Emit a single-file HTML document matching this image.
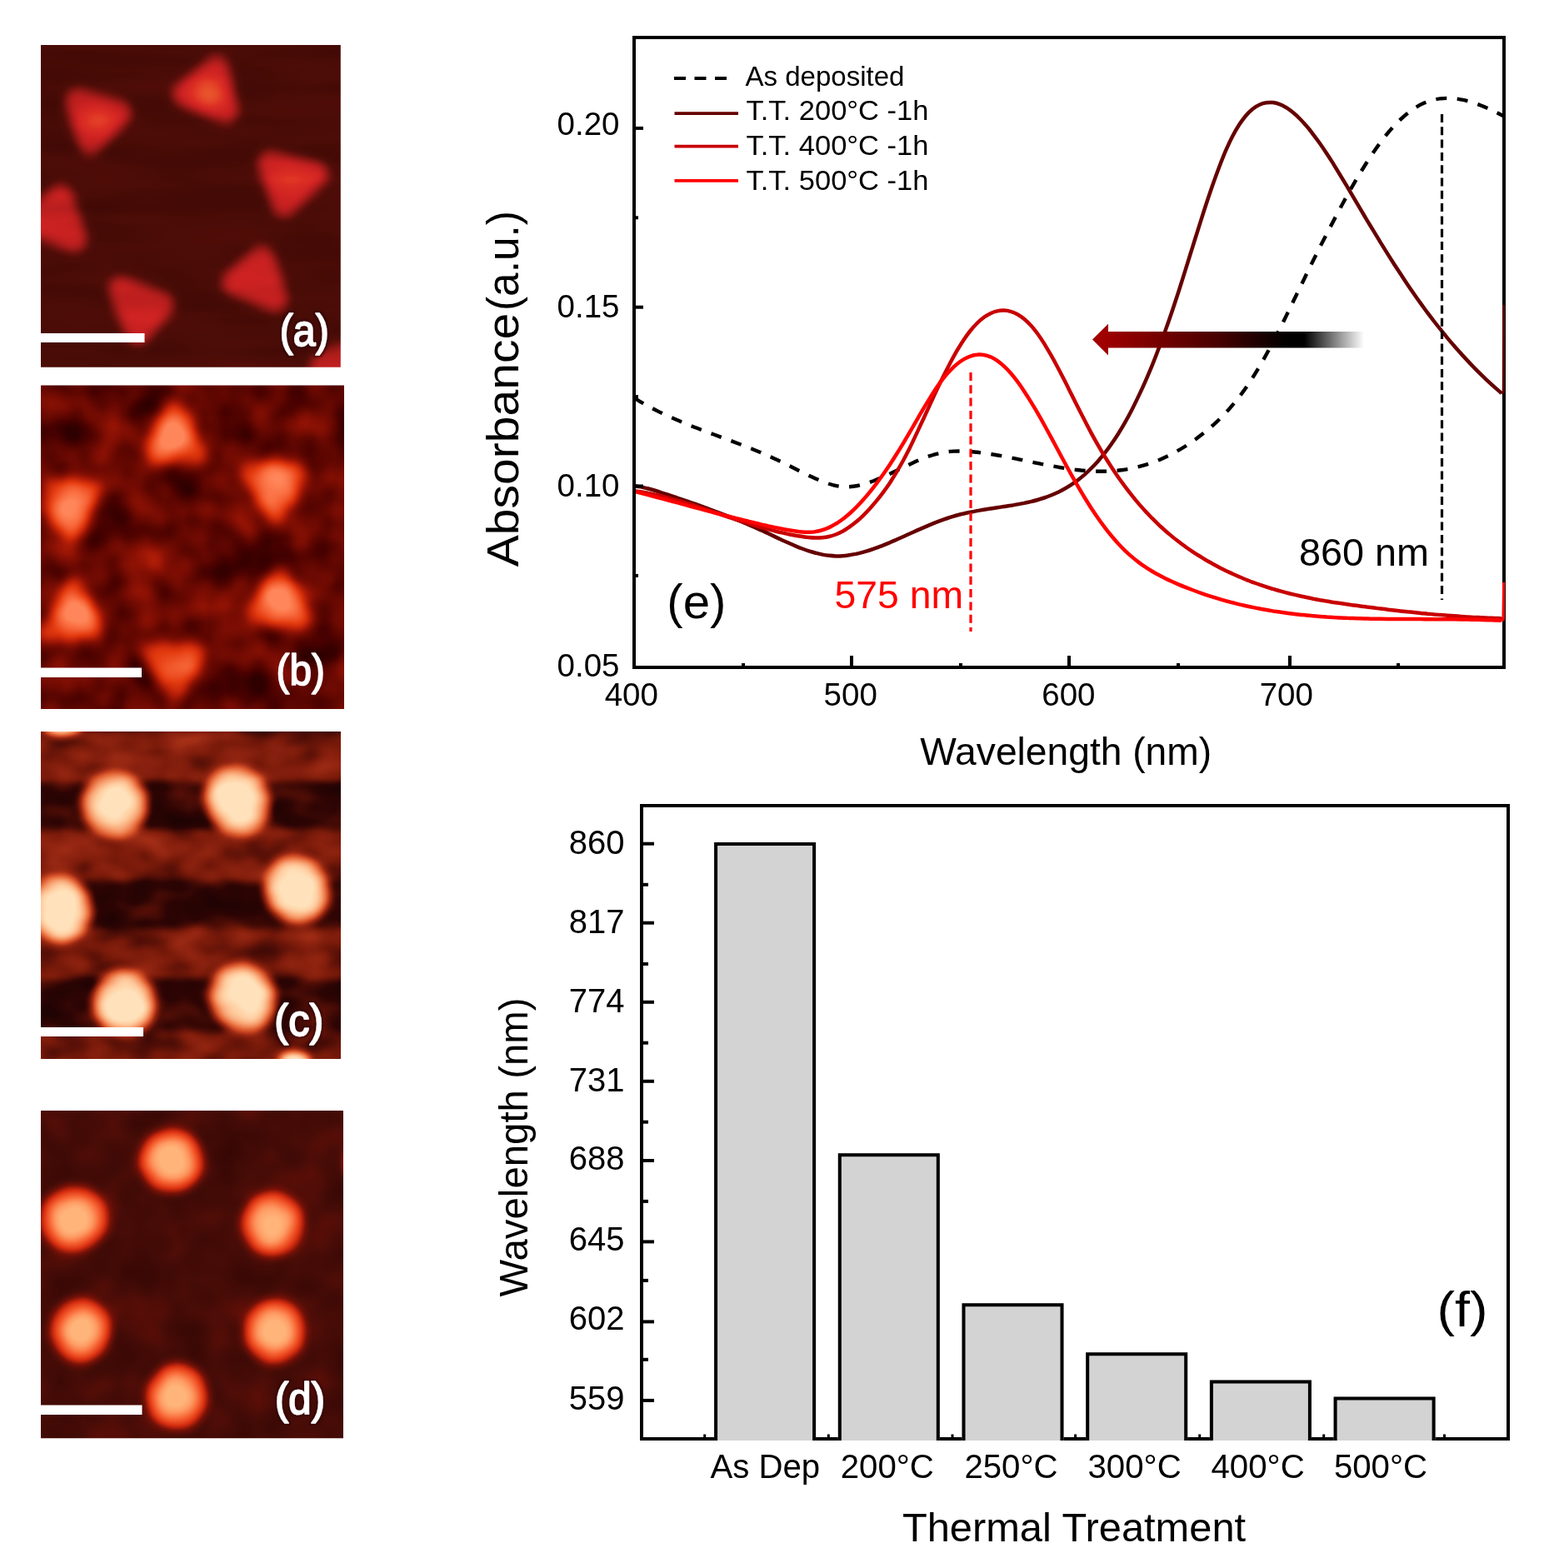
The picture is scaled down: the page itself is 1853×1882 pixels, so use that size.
<!DOCTYPE html>
<html lang="en"><head><meta charset="utf-8"><title>Figure</title>
<style>html,body{margin:0;padding:0;background:#fff;}body{width:1853px;height:1882px;overflow:hidden;}svg{display:block;}</style>
</head><body>
<svg width="1853" height="1882" viewBox="0 0 1853 1882">
<rect width="1853" height="1882" fill="#fff"/>
<defs>
<radialGradient id="dome"><stop offset="0" stop-color="#fff" stop-opacity="1"/><stop offset="0.22" stop-color="#fff" stop-opacity="0.94"/><stop offset="0.45" stop-color="#fff" stop-opacity="0.78"/><stop offset="0.68" stop-color="#fff" stop-opacity="0.55"/><stop offset="0.86" stop-color="#fff" stop-opacity="0.26"/><stop offset="1" stop-color="#fff" stop-opacity="0"/></radialGradient>
<radialGradient id="domeC"><stop offset="0" stop-color="#fff" stop-opacity="1"/><stop offset="0.3" stop-color="#fff" stop-opacity="0.95"/><stop offset="0.55" stop-color="#fff" stop-opacity="0.84"/><stop offset="0.75" stop-color="#fff" stop-opacity="0.62"/><stop offset="0.9" stop-color="#fff" stop-opacity="0.28"/><stop offset="1" stop-color="#fff" stop-opacity="0"/></radialGradient>
<radialGradient id="bump"><stop offset="0" stop-color="#fff" stop-opacity="1"/><stop offset="0.5" stop-color="#fff" stop-opacity="0.6"/><stop offset="1" stop-color="#fff" stop-opacity="0"/></radialGradient>
<filter id="labsh" x="-20%" y="-20%" width="140%" height="140%"><feMorphology operator="dilate" radius="2.2" in="SourceAlpha" result="d"/><feGaussianBlur in="d" stdDeviation="0.8" result="db"/><feFlood flood-color="#2a0500" flood-opacity="0.55"/><feComposite in2="db" operator="in" result="sh"/><feMerge><feMergeNode in="sh"/><feMergeNode in="SourceGraphic"/></feMerge></filter>
</defs>
<g id="panel-a">
<defs>
<clipPath id="cafm1"><rect x="49.0" y="54.0" width="359.8" height="386.8"/></clipPath>
<filter id="afm1" filterUnits="userSpaceOnUse" x="9.0" y="14.0" width="439.8" height="466.8" color-interpolation-filters="sRGB">
<feGaussianBlur in="SourceGraphic" stdDeviation="6.5" result="b"/>
<feTurbulence type="fractalNoise" baseFrequency="0.006 0.035" numOctaves="2" seed="4" result="n"/>
<feColorMatrix in="n" type="matrix" values="1 0 0 0 0  1 0 0 0 0  1 0 0 0 0  0 0 0 0 1" result="ng"/>
<feComposite in="b" in2="ng" operator="arithmetic" k1="0" k2="1" k3="0.2" k4="0.0" result="h"/>
<feComponentTransfer in="h"><feFuncR type="table" tableValues="0.243 0.254 0.265 0.275 0.286 0.298 0.309 0.328 0.351 0.374 0.397 0.420 0.443 0.466 0.489 0.513 0.536 0.559 0.582 0.605 0.628 0.651 0.674 0.698 0.721 0.744 0.767 0.790 0.809 0.823 0.836 0.849 0.863 0.874 0.886 0.897 0.908 0.919 0.926 0.934 0.941"/><feFuncG type="table" tableValues="0.031 0.035 0.039 0.043 0.047 0.049 0.050 0.053 0.057 0.061 0.065 0.069 0.073 0.077 0.081 0.084 0.088 0.092 0.096 0.100 0.104 0.108 0.112 0.115 0.119 0.123 0.127 0.131 0.138 0.148 0.159 0.170 0.180 0.211 0.242 0.274 0.305 0.336 0.368 0.400 0.431"/><feFuncB type="table" tableValues="0.020 0.022 0.024 0.025 0.027 0.029 0.031 0.034 0.039 0.044 0.049 0.053 0.058 0.063 0.068 0.073 0.078 0.082 0.087 0.092 0.097 0.102 0.106 0.111 0.116 0.121 0.126 0.130 0.134 0.136 0.138 0.139 0.141 0.148 0.154 0.161 0.167 0.174 0.181 0.189 0.196"/></feComponentTransfer>
</filter></defs>
<g clip-path="url(#cafm1)">
<g filter="url(#afm1)">
<rect x="9.0" y="14.0" width="439.8" height="466.8" fill="#000"/>

<polygon points="259.7,82.7 222.7,113.3 271.1,132.5" fill="rgb(150,150,150)" stroke="rgb(150,150,150)" stroke-width="31.0" stroke-linejoin="round"/>
<polygon points="93.1,122.0 142.8,134.8 108.4,170.4" fill="rgb(150,150,150)" stroke="rgb(150,150,150)" stroke-width="31.0" stroke-linejoin="round"/>
<polygon points="324.4,196.0 378.0,208.8 341.0,244.5" fill="rgb(150,150,150)" stroke="rgb(150,150,150)" stroke-width="31.0" stroke-linejoin="round"/>
<polygon points="72.6,236.9 89.2,286.6 40.7,267.5" fill="rgb(145,145,145)" stroke="rgb(145,145,145)" stroke-width="31.0" stroke-linejoin="round"/>
<polygon points="314.7,310.4 281.5,339.7 330.0,358.9" fill="rgb(145,145,145)" stroke="rgb(145,145,145)" stroke-width="31.0" stroke-linejoin="round"/>
<polygon points="145.3,347.7 193.7,365.5 165.7,398.7" fill="rgb(145,145,145)" stroke="rgb(145,145,145)" stroke-width="31.0" stroke-linejoin="round"/>
<polygon points="391.6,433.7 412.0,427.3 412.0,441.3 386.5,441.3" fill="rgb(135,135,135)" stroke="rgb(135,135,135)" stroke-width="31.0" stroke-linejoin="round"/>
<ellipse cx="251.5" cy="112.6" rx="30.8" ry="26.7" fill="url(#bump)" opacity="0.75" transform="rotate(0 251.5 112.6)"/>
<ellipse cx="116.8" cy="141.4" rx="30.8" ry="26.7" fill="url(#bump)" opacity="0.45" transform="rotate(0 116.8 141.4)"/>
<ellipse cx="347.1" cy="216.4" rx="30.8" ry="26.7" fill="url(#bump)" opacity="0.25" transform="rotate(0 347.1 216.4)"/>
</g>
<rect x="49.0" y="400.0" width="124.5" height="11.0" fill="#fff"/>
<text x="335.8" y="415.2" font-family='"Liberation Sans", Arial, sans-serif' font-size="54.5" fill="#fff" stroke="#fff" stroke-width="1.7" stroke-linejoin="round" textLength="59.0" lengthAdjust="spacingAndGlyphs" filter="url(#labsh)">(a)</text>
</g></g>
<g id="panel-b">
<defs>
<clipPath id="cafm2"><rect x="49.0" y="462.5" width="364.0" height="388.5"/></clipPath>
<filter id="afm2" filterUnits="userSpaceOnUse" x="9.0" y="422.5" width="444.0" height="468.5" color-interpolation-filters="sRGB">
<feGaussianBlur in="SourceGraphic" stdDeviation="7.5" result="b"/>
<feTurbulence type="fractalNoise" baseFrequency="0.02" numOctaves="2" seed="7" result="n"/>
<feColorMatrix in="n" type="matrix" values="1 0 0 0 0  1 0 0 0 0  1 0 0 0 0  0 0 0 0 1" result="ng"/>
<feComposite in="b" in2="ng" operator="arithmetic" k1="0" k2="1" k3="0.6" k4="-0.125" result="h"/>
<feComponentTransfer in="h"><feFuncR type="table" tableValues="0.188 0.215 0.241 0.268 0.294 0.324 0.353 0.382 0.412 0.441 0.471 0.500 0.529 0.562 0.595 0.627 0.660 0.693 0.725 0.750 0.775 0.800 0.825 0.849 0.874 0.896 0.904 0.913 0.921 0.930 0.938 0.947 0.955 0.964 0.973 0.977 0.982 0.986 0.991 0.995 1.000"/><feFuncG type="table" tableValues="0.000 0.002 0.004 0.006 0.008 0.015 0.022 0.028 0.035 0.042 0.049 0.056 0.063 0.073 0.084 0.094 0.105 0.115 0.125 0.140 0.155 0.170 0.185 0.200 0.215 0.231 0.251 0.272 0.292 0.312 0.332 0.352 0.372 0.392 0.412 0.431 0.451 0.471 0.490 0.510 0.529"/><feFuncB type="table" tableValues="0.000 0.000 0.000 0.000 0.000 0.002 0.004 0.006 0.008 0.010 0.012 0.014 0.016 0.018 0.021 0.024 0.026 0.029 0.031 0.035 0.039 0.043 0.048 0.052 0.056 0.063 0.082 0.101 0.120 0.139 0.159 0.178 0.197 0.216 0.235 0.255 0.275 0.294 0.314 0.333 0.353"/></feComponentTransfer>
</filter></defs>
<g clip-path="url(#cafm2)">
<g filter="url(#afm2)">
<rect x="9.0" y="422.5" width="444.0" height="468.5" fill="#000"/>

<polygon points="207.7,492.6 183.9,544.5 237.1,544.5" fill="rgb(124,124,124)" stroke="rgb(124,124,124)" stroke-width="22.0" stroke-linejoin="round"/>
<polygon points="299.1,565.0 356.6,566.4 331.4,616.8" fill="rgb(124,124,124)" stroke="rgb(124,124,124)" stroke-width="22.0" stroke-linejoin="round"/>
<polygon points="60.2,586.2 109.3,586.2 84.0,636.7" fill="rgb(124,124,124)" stroke="rgb(124,124,124)" stroke-width="22.0" stroke-linejoin="round"/>
<polygon points="334.1,690.5 308.9,742.3 362.1,742.3" fill="rgb(124,124,124)" stroke="rgb(124,124,124)" stroke-width="22.0" stroke-linejoin="round"/>
<polygon points="88.2,704.1 60.1,758.8 114.8,758.8" fill="rgb(124,124,124)" stroke="rgb(124,124,124)" stroke-width="22.0" stroke-linejoin="round"/>
<polygon points="181.7,783.4 236.4,783.4 209.8,832.5" fill="rgb(124,124,124)" stroke="rgb(124,124,124)" stroke-width="22.0" stroke-linejoin="round"/>
<ellipse cx="207.7" cy="524.8" rx="30.9" ry="34.0" fill="url(#bump)" transform="rotate(0 207.7 524.8)"/>
<ellipse cx="331.4" cy="584.6" rx="30.9" ry="34.0" fill="url(#bump)" opacity="0.95" transform="rotate(0 331.4 584.6)"/>
<ellipse cx="84.0" cy="607.3" rx="30.9" ry="34.0" fill="url(#bump)" transform="rotate(0 84.0 607.3)"/>
<ellipse cx="335.5" cy="722.7" rx="30.9" ry="34.0" fill="url(#bump)" transform="rotate(0 335.5 722.7)"/>
<ellipse cx="88.2" cy="739.2" rx="30.9" ry="34.0" fill="url(#bump)" transform="rotate(0 88.2 739.2)"/>
<ellipse cx="209.8" cy="803.1" rx="30.9" ry="34.0" fill="url(#bump)" opacity="0.22" transform="rotate(0 209.8 803.1)"/>
</g>
<rect x="49.0" y="801.5" width="121.0" height="11.5" fill="#fff"/>
<text x="331.5" y="822.0" font-family='"Liberation Sans", Arial, sans-serif' font-size="52.5" fill="#fff" stroke="#fff" stroke-width="1.7" stroke-linejoin="round" textLength="58.5" lengthAdjust="spacingAndGlyphs">(b)</text>
</g></g>
<g id="panel-c">
<defs>
<clipPath id="cafm3"><rect x="49.0" y="878.0" width="360.0" height="393.0"/></clipPath>
<filter id="afm3" filterUnits="userSpaceOnUse" x="9.0" y="838.0" width="440.0" height="473.0" color-interpolation-filters="sRGB">
<feGaussianBlur in="SourceGraphic" stdDeviation="4" result="b"/>
<feTurbulence type="fractalNoise" baseFrequency="0.02 0.03" numOctaves="2" seed="11" result="n"/>
<feColorMatrix in="n" type="matrix" values="1 0 0 0 0  1 0 0 0 0  1 0 0 0 0  0 0 0 0 1" result="ng"/>
<feComposite in="b" in2="ng" operator="arithmetic" k1="0" k2="1" k3="0.3" k4="-0.05" result="h"/>
<feComponentTransfer in="h"><feFuncR type="table" tableValues="0.110 0.127 0.145 0.163 0.180 0.227 0.274 0.320 0.371 0.422 0.474 0.513 0.545 0.577 0.613 0.656 0.699 0.742 0.784 0.805 0.826 0.847 0.868 0.889 0.910 0.920 0.931 0.941 0.952 0.962 0.973 0.977 0.982 0.986 0.991 0.995 1.000 1.000 1.000 1.000 1.000"/><feFuncG type="table" tableValues="0.012 0.014 0.016 0.018 0.020 0.032 0.044 0.056 0.072 0.087 0.103 0.119 0.133 0.148 0.167 0.192 0.217 0.242 0.267 0.295 0.324 0.353 0.382 0.410 0.439 0.471 0.502 0.533 0.565 0.596 0.627 0.657 0.686 0.716 0.745 0.775 0.804 0.825 0.845 0.866 0.886"/><feFuncB type="table" tableValues="0.012 0.013 0.014 0.015 0.016 0.019 0.023 0.027 0.031 0.036 0.041 0.049 0.059 0.069 0.079 0.091 0.102 0.114 0.125 0.146 0.167 0.188 0.209 0.230 0.251 0.282 0.314 0.345 0.376 0.408 0.439 0.471 0.502 0.533 0.565 0.596 0.627 0.655 0.682 0.710 0.737"/></feComponentTransfer>
</filter></defs>
<g clip-path="url(#cafm3)">
<g filter="url(#afm3)">
<rect x="9.0" y="838.0" width="440.0" height="473.0" fill="#000"/>
<rect x="0" y="878.0" width="500" height="60.6" fill="rgb(44,44,44)"/><rect x="0" y="994.9" width="500" height="62.6" fill="rgb(40,40,40)"/><rect x="0" y="1114.0" width="500" height="60.6" fill="rgb(38,38,38)"/><rect x="0" y="1237.2" width="500" height="41.8" fill="rgb(36,36,36)"/>
<ellipse cx="137.7" cy="965.7" rx="44.3" ry="44.3" fill="url(#domeC)" transform="rotate(-20 137.7 965.7)"/>
<ellipse cx="285.0" cy="961.5" rx="42.8" ry="48.4" fill="url(#domeC)" transform="rotate(-30 285.0 961.5)"/>
<ellipse cx="356.0" cy="1068.0" rx="42.8" ry="46.4" fill="url(#domeC)" transform="rotate(-25 356.0 1068.0)"/>
<ellipse cx="72.0" cy="1091.0" rx="42.8" ry="44.3" fill="url(#domeC)" transform="rotate(-25 72.0 1091.0)"/>
<ellipse cx="149.2" cy="1203.7" rx="41.8" ry="44.3" fill="url(#domeC)" transform="rotate(-20 149.2 1203.7)"/>
<ellipse cx="291.2" cy="1197.5" rx="44.3" ry="47.6" fill="url(#domeC)" transform="rotate(-30 291.2 1197.5)"/>
<ellipse cx="74.1" cy="871.7" rx="28.2" ry="12.9" fill="url(#domeC)" transform="rotate(0 74.1 871.7)"/>
<ellipse cx="353.9" cy="1272.7" rx="21.9" ry="12.9" fill="url(#domeC)" transform="rotate(0 353.9 1272.7)"/>
</g>
<rect x="49.0" y="1233.0" width="123.0" height="11.0" fill="#fff"/>
<text x="329.3" y="1242.6" font-family='"Liberation Sans", Arial, sans-serif' font-size="54.0" fill="#fff" stroke="#fff" stroke-width="1.7" stroke-linejoin="round" textLength="59.0" lengthAdjust="spacingAndGlyphs" filter="url(#labsh)">(c)</text>
</g></g>
<g id="panel-d">
<defs>
<clipPath id="cafm4"><rect x="49.0" y="1333.0" width="363.0" height="393.3"/></clipPath>
<filter id="afm4" filterUnits="userSpaceOnUse" x="9.0" y="1293.0" width="443.0" height="473.3" color-interpolation-filters="sRGB">
<feGaussianBlur in="SourceGraphic" stdDeviation="4" result="b"/>
<feTurbulence type="fractalNoise" baseFrequency="0.02" numOctaves="2" seed="5" result="n"/>
<feColorMatrix in="n" type="matrix" values="1 0 0 0 0  1 0 0 0 0  1 0 0 0 0  0 0 0 0 1" result="ng"/>
<feComposite in="b" in2="ng" operator="arithmetic" k1="0" k2="1" k3="0.24" k4="0.0" result="h"/>
<feComponentTransfer in="h"><feFuncR type="table" tableValues="0.196 0.212 0.227 0.243 0.258 0.276 0.305 0.334 0.363 0.392 0.421 0.450 0.478 0.524 0.570 0.615 0.661 0.706 0.752 0.798 0.843 0.858 0.874 0.889 0.904 0.919 0.934 0.950 0.965 0.970 0.975 0.979 0.984 0.989 0.994 0.999 1.000 1.000 1.000 1.000 1.000"/><feFuncG type="table" tableValues="0.024 0.028 0.033 0.038 0.043 0.048 0.051 0.054 0.058 0.061 0.064 0.067 0.071 0.084 0.098 0.112 0.125 0.139 0.153 0.167 0.180 0.205 0.229 0.254 0.278 0.303 0.327 0.352 0.376 0.409 0.441 0.473 0.505 0.537 0.569 0.601 0.624 0.645 0.665 0.685 0.706"/><feFuncB type="table" tableValues="0.016 0.018 0.021 0.023 0.025 0.028 0.028 0.029 0.029 0.030 0.030 0.031 0.031 0.035 0.039 0.043 0.047 0.051 0.055 0.059 0.063 0.078 0.094 0.110 0.125 0.141 0.157 0.173 0.188 0.217 0.245 0.273 0.302 0.330 0.358 0.386 0.407 0.425 0.442 0.460 0.478"/></feComponentTransfer>
</filter></defs>
<g clip-path="url(#cafm4)">
<g filter="url(#afm4)">
<rect x="9.0" y="1293.0" width="443.0" height="473.3" fill="#000"/>

<ellipse cx="206.0" cy="1393.7" rx="45.0" ry="45.0" fill="url(#dome)" transform="rotate(0 206.0 1393.7)"/>
<ellipse cx="88.8" cy="1462.8" rx="47.1" ry="46.1" fill="url(#dome)" transform="rotate(0 88.8 1462.8)"/>
<ellipse cx="327.4" cy="1469.1" rx="44.0" ry="45.0" fill="url(#dome)" transform="rotate(0 327.4 1469.1)"/>
<ellipse cx="97.1" cy="1596.8" rx="42.9" ry="45.0" fill="url(#dome)" transform="rotate(0 97.1 1596.8)"/>
<ellipse cx="329.5" cy="1598.9" rx="42.9" ry="45.0" fill="url(#dome)" transform="rotate(0 329.5 1598.9)"/>
<ellipse cx="212.3" cy="1676.3" rx="42.9" ry="46.1" fill="url(#dome)" transform="rotate(0 212.3 1676.3)"/>
<ellipse cx="425.8" cy="1395.8" rx="14.7" ry="25.1" fill="url(#dome)" transform="rotate(0 425.8 1395.8)"/>
</g>
<rect x="49.0" y="1686.5" width="121.5" height="11.5" fill="#fff"/>
<text x="330.0" y="1697.4" font-family='"Liberation Sans", Arial, sans-serif' font-size="53.5" fill="#fff" stroke="#fff" stroke-width="1.7" stroke-linejoin="round" textLength="60.0" lengthAdjust="spacingAndGlyphs" filter="url(#labsh)">(d)</text>
</g></g>
<g id="chart-e">
<clipPath id="clipE"><rect x="761.0" y="45.0" width="1046.0" height="756.0"/></clipPath>
<g clip-path="url(#clipE)" fill="none" stroke-linejoin="round" stroke-linecap="butt">
<path d="M761.0,477.7 C762.6,478.6 767.4,481.5 770.6,483.4 C773.8,485.2 777.0,486.9 780.2,488.6 C783.3,490.3 786.5,492.0 789.7,493.6 C792.9,495.2 796.1,496.7 799.3,498.2 C802.5,499.7 805.7,501.1 808.9,502.5 C812.1,503.9 815.3,505.3 818.5,506.6 C821.7,508.0 824.9,509.3 828.0,510.6 C831.2,511.8 834.4,513.1 837.6,514.3 C840.8,515.6 844.0,516.8 847.2,518.0 C850.4,519.2 853.6,520.4 856.8,521.5 C860.0,522.7 863.2,523.9 866.4,525.1 C869.6,526.3 872.7,527.4 875.9,528.6 C879.1,529.8 882.3,531.0 885.5,532.2 C888.7,533.4 891.9,534.7 895.1,535.9 C898.3,537.2 901.5,538.4 904.7,539.7 C907.9,541.0 911.1,542.3 914.2,543.7 C917.4,545.1 920.6,546.5 923.8,547.9 C927.0,549.3 930.2,550.8 933.4,552.3 C936.6,553.9 939.8,555.4 943.0,557.0 C946.2,558.6 949.4,560.2 952.6,561.8 C955.8,563.4 958.9,565.0 962.1,566.5 C965.3,568.1 968.5,569.7 971.7,571.2 C974.9,572.7 978.1,574.1 981.3,575.5 C984.5,576.9 987.7,578.2 990.9,579.4 C994.1,580.5 997.3,581.6 1000.4,582.3 C1003.6,583.1 1006.8,583.8 1010.0,584.1 C1013.2,584.4 1016.4,584.5 1019.6,584.3 C1022.8,584.1 1026.0,583.6 1029.2,583.0 C1032.4,582.4 1035.6,581.5 1038.8,580.6 C1042.0,579.6 1045.1,578.5 1048.3,577.3 C1051.5,576.0 1054.7,574.7 1057.9,573.3 C1061.1,571.9 1064.3,570.4 1067.5,568.9 C1070.7,567.4 1073.9,565.9 1077.1,564.3 C1080.3,562.8 1083.5,561.2 1086.7,559.7 C1089.8,558.2 1093.0,556.6 1096.2,555.2 C1099.4,553.7 1102.6,552.3 1105.8,551.0 C1109.0,549.8 1112.2,548.5 1115.4,547.4 C1118.6,546.4 1121.8,545.4 1125.0,544.6 C1128.2,543.8 1131.3,543.1 1134.5,542.6 C1137.7,542.1 1140.9,541.8 1144.1,541.6 C1147.3,541.5 1150.5,541.4 1153.7,541.5 C1156.9,541.5 1160.1,541.7 1163.3,541.9 C1166.5,542.1 1169.7,542.5 1172.9,542.8 C1176.0,543.2 1179.2,543.6 1182.4,544.0 C1185.6,544.4 1188.8,544.9 1192.0,545.5 C1195.2,546.0 1198.4,546.5 1201.6,547.1 C1204.8,547.7 1208.0,548.3 1211.2,548.9 C1214.4,549.5 1217.6,550.2 1220.7,550.8 C1223.9,551.5 1227.1,552.1 1230.3,552.8 C1233.5,553.5 1236.7,554.1 1239.9,554.8 C1243.1,555.5 1246.3,556.1 1249.5,556.8 C1252.7,557.4 1255.9,558.0 1259.1,558.6 C1262.2,559.3 1265.4,559.8 1268.6,560.4 C1271.8,561.0 1275.0,561.5 1278.2,562.0 C1281.4,562.5 1284.6,562.9 1287.8,563.4 C1291.0,563.8 1294.2,564.1 1297.4,564.5 C1300.6,564.8 1303.8,565.0 1306.9,565.2 C1310.1,565.5 1313.3,565.6 1316.5,565.7 C1319.7,565.8 1322.9,565.8 1326.1,565.7 C1329.3,565.6 1332.5,565.5 1335.7,565.3 C1338.9,565.0 1342.1,564.7 1345.3,564.3 C1348.4,563.9 1351.6,563.5 1354.8,562.9 C1358.0,562.3 1361.2,561.6 1364.4,560.8 C1367.6,560.0 1370.8,559.2 1374.0,558.2 C1377.2,557.2 1380.4,556.2 1383.6,555.0 C1386.8,553.8 1390.0,552.6 1393.1,551.2 C1396.3,549.8 1399.5,548.3 1402.7,546.8 C1405.9,545.2 1409.1,543.5 1412.3,541.7 C1415.5,539.9 1418.7,538.0 1421.9,536.0 C1425.1,534.0 1428.3,531.9 1431.5,529.6 C1434.7,527.4 1437.8,525.1 1441.0,522.6 C1444.2,520.1 1447.4,517.6 1450.6,514.9 C1453.8,512.2 1457.0,509.3 1460.2,506.3 C1463.4,503.3 1466.6,500.1 1469.8,496.7 C1473.0,493.4 1476.2,489.8 1479.3,486.1 C1482.5,482.3 1485.7,478.3 1488.9,474.1 C1492.1,469.8 1495.3,465.4 1498.5,460.6 C1501.7,455.9 1504.9,450.8 1508.1,445.6 C1511.3,440.4 1514.5,434.8 1517.7,429.2 C1520.9,423.5 1524.0,417.6 1527.2,411.5 C1530.4,405.5 1533.6,399.2 1536.8,392.9 C1540.0,386.6 1543.2,380.0 1546.4,373.5 C1549.6,367.0 1552.8,360.3 1556.0,353.7 C1559.2,347.1 1562.4,340.5 1565.6,334.0 C1568.7,327.4 1571.9,320.9 1575.1,314.5 C1578.3,308.1 1581.5,301.7 1584.7,295.4 C1587.9,289.1 1591.1,282.9 1594.3,276.7 C1597.5,270.6 1600.7,264.5 1603.9,258.5 C1607.1,252.5 1610.2,246.5 1613.4,240.7 C1616.6,234.9 1619.8,229.2 1623.0,223.6 C1626.2,218.1 1629.4,212.6 1632.6,207.3 C1635.8,202.1 1639.0,196.9 1642.2,192.0 C1645.4,187.1 1648.6,182.4 1651.8,177.8 C1654.9,173.3 1658.1,169.0 1661.3,165.0 C1664.5,160.9 1667.7,157.1 1670.9,153.6 C1674.1,150.0 1677.3,146.7 1680.5,143.6 C1683.7,140.6 1686.9,137.8 1690.1,135.3 C1693.3,132.8 1696.4,130.5 1699.6,128.6 C1702.8,126.7 1706.0,125.0 1709.2,123.6 C1712.4,122.2 1715.6,121.1 1718.8,120.3 C1722.0,119.4 1725.2,118.8 1728.4,118.4 C1731.6,118.0 1734.8,117.8 1738.0,117.9 C1741.1,117.9 1744.3,118.1 1747.5,118.5 C1750.7,118.9 1753.9,119.5 1757.1,120.2 C1760.3,120.9 1763.5,121.8 1766.7,122.8 C1769.9,123.8 1773.1,125.0 1776.3,126.2 C1779.5,127.4 1782.7,128.8 1785.8,130.2 C1789.0,131.6 1792.2,133.1 1795.4,134.7 C1798.6,136.3 1803.4,138.7 1805.0,139.5" stroke="#000" stroke-width="4.4" stroke-dasharray="13,12.5"/>
<path d="M761.0,583.0 C762.3,583.2 766.4,583.8 769.1,584.4 C771.8,584.9 774.4,585.6 777.1,586.3 C779.8,587.0 782.5,587.7 785.2,588.5 C787.9,589.3 790.6,590.2 793.3,591.1 C796.0,591.9 798.7,592.8 801.3,593.7 C804.0,594.6 806.7,595.5 809.4,596.4 C812.1,597.3 814.8,598.3 817.5,599.2 C820.2,600.1 822.9,601.0 825.6,601.9 C828.2,602.9 830.9,603.8 833.6,604.7 C836.3,605.7 839.0,606.6 841.7,607.6 C844.4,608.6 847.1,609.5 849.8,610.5 C852.5,611.5 855.1,612.5 857.8,613.5 C860.5,614.5 863.2,615.5 865.9,616.5 C868.6,617.6 871.3,618.6 874.0,619.7 C876.7,620.7 879.4,621.8 882.0,622.9 C884.7,624.0 887.4,625.1 890.1,626.2 C892.8,627.3 895.5,628.5 898.2,629.6 C900.9,630.8 903.6,631.9 906.3,633.1 C908.9,634.3 911.6,635.6 914.3,636.8 C917.0,638.0 919.7,639.3 922.4,640.5 C925.1,641.8 927.8,643.1 930.5,644.4 C933.2,645.6 935.8,646.9 938.5,648.2 C941.2,649.4 943.9,650.6 946.6,651.8 C949.3,653.0 952.0,654.2 954.7,655.3 C957.4,656.4 960.1,657.5 962.7,658.5 C965.4,659.5 968.1,660.5 970.8,661.4 C973.5,662.2 976.2,663.0 978.9,663.7 C981.6,664.5 984.3,665.1 987.0,665.6 C989.6,666.1 992.3,666.5 995.0,666.8 C997.7,667.1 1000.4,667.3 1003.1,667.4 C1005.8,667.4 1008.5,667.4 1011.2,667.2 C1013.9,667.0 1016.5,666.7 1019.2,666.3 C1021.9,665.9 1024.6,665.4 1027.3,664.9 C1030.0,664.3 1032.7,663.6 1035.4,662.9 C1038.1,662.2 1040.8,661.3 1043.4,660.5 C1046.1,659.6 1048.8,658.7 1051.5,657.7 C1054.2,656.7 1056.9,655.6 1059.6,654.6 C1062.3,653.5 1065.0,652.4 1067.7,651.3 C1070.3,650.1 1073.0,648.9 1075.7,647.8 C1078.4,646.6 1081.1,645.4 1083.8,644.2 C1086.5,643.0 1089.2,641.8 1091.9,640.5 C1094.6,639.3 1097.2,638.1 1099.9,636.9 C1102.6,635.7 1105.3,634.5 1108.0,633.4 C1110.7,632.2 1113.4,631.0 1116.1,629.9 C1118.8,628.8 1121.4,627.7 1124.1,626.7 C1126.8,625.6 1129.5,624.6 1132.2,623.6 C1134.9,622.7 1137.6,621.8 1140.3,620.9 C1143.0,620.1 1145.7,619.3 1148.3,618.5 C1151.0,617.8 1153.7,617.1 1156.4,616.5 C1159.1,615.8 1161.8,615.3 1164.5,614.7 C1167.2,614.1 1169.9,613.6 1172.6,613.1 C1175.2,612.6 1177.9,612.2 1180.6,611.7 C1183.3,611.3 1186.0,610.9 1188.7,610.5 C1191.4,610.0 1194.1,609.6 1196.8,609.2 C1199.5,608.8 1202.1,608.4 1204.8,608.0 C1207.5,607.6 1210.2,607.2 1212.9,606.8 C1215.6,606.3 1218.3,605.9 1221.0,605.4 C1223.7,604.9 1226.4,604.4 1229.0,603.9 C1231.7,603.3 1234.4,602.7 1237.1,602.1 C1239.8,601.5 1242.5,600.8 1245.2,600.0 C1247.9,599.2 1250.6,598.4 1253.3,597.5 C1255.9,596.6 1258.6,595.6 1261.3,594.5 C1264.0,593.4 1266.7,592.3 1269.4,591.0 C1272.1,589.7 1274.8,588.3 1277.5,586.8 C1280.2,585.3 1282.8,583.6 1285.5,581.9 C1288.2,580.1 1290.9,578.2 1293.6,576.2 C1296.3,574.1 1299.0,571.9 1301.7,569.6 C1304.4,567.2 1307.1,564.7 1309.7,562.0 C1312.4,559.3 1315.1,556.5 1317.8,553.4 C1320.5,550.4 1323.2,547.2 1325.9,543.7 C1328.6,540.3 1331.3,536.7 1334.0,532.8 C1336.6,529.0 1339.3,524.9 1342.0,520.7 C1344.7,516.4 1347.4,511.9 1350.1,507.1 C1352.8,502.4 1355.5,497.4 1358.2,492.2 C1360.9,487.0 1363.5,481.6 1366.2,475.9 C1368.9,470.3 1371.6,464.4 1374.3,458.3 C1377.0,452.2 1379.7,445.8 1382.4,439.3 C1385.1,432.7 1387.8,425.9 1390.4,418.8 C1393.1,411.8 1395.8,404.5 1398.5,397.0 C1401.2,389.5 1403.9,381.8 1406.6,373.8 C1409.3,365.9 1412.0,357.6 1414.7,349.3 C1417.3,341.0 1420.0,332.4 1422.7,323.8 C1425.4,315.3 1428.1,306.5 1430.8,297.9 C1433.5,289.3 1436.2,280.6 1438.9,272.1 C1441.6,263.6 1444.2,255.2 1446.9,247.0 C1449.6,238.8 1452.3,230.7 1455.0,223.0 C1457.7,215.3 1460.4,207.8 1463.1,200.7 C1465.8,193.7 1468.4,187.0 1471.1,180.7 C1473.8,174.5 1476.5,168.7 1479.2,163.5 C1481.9,158.3 1484.6,153.7 1487.3,149.5 C1490.0,145.4 1492.7,141.8 1495.3,138.7 C1498.0,135.6 1500.7,133.0 1503.4,130.8 C1506.1,128.7 1508.8,127.0 1511.5,125.8 C1514.2,124.5 1516.9,123.7 1519.6,123.3 C1522.2,122.8 1524.9,122.8 1527.6,123.1 C1530.3,123.5 1533.0,124.2 1535.7,125.2 C1538.4,126.2 1541.1,127.6 1543.8,129.2 C1546.5,130.9 1549.1,132.9 1551.8,135.1 C1554.5,137.3 1557.2,139.8 1559.9,142.5 C1562.6,145.2 1565.3,148.2 1568.0,151.3 C1570.7,154.4 1573.4,157.8 1576.0,161.3 C1578.7,164.8 1581.4,168.5 1584.1,172.3 C1586.8,176.2 1589.5,180.2 1592.2,184.3 C1594.9,188.3 1597.6,192.6 1600.3,196.8 C1602.9,201.1 1605.6,205.5 1608.3,210.0 C1611.0,214.4 1613.7,218.9 1616.4,223.4 C1619.1,227.9 1621.8,232.5 1624.5,237.1 C1627.2,241.6 1629.8,246.2 1632.5,250.7 C1635.2,255.2 1637.9,259.8 1640.6,264.3 C1643.3,268.8 1646.0,273.2 1648.7,277.7 C1651.4,282.1 1654.1,286.5 1656.7,290.9 C1659.4,295.3 1662.1,299.6 1664.8,303.9 C1667.5,308.2 1670.2,312.5 1672.9,316.7 C1675.6,320.9 1678.3,325.0 1681.0,329.1 C1683.6,333.2 1686.3,337.3 1689.0,341.3 C1691.7,345.3 1694.4,349.2 1697.1,353.0 C1699.8,356.9 1702.5,360.7 1705.2,364.4 C1707.9,368.1 1710.5,371.8 1713.2,375.4 C1715.9,379.0 1718.6,382.5 1721.3,386.0 C1724.0,389.5 1726.7,392.9 1729.4,396.2 C1732.1,399.6 1734.8,402.8 1737.4,406.1 C1740.1,409.3 1742.8,412.4 1745.5,415.5 C1748.2,418.6 1750.9,421.7 1753.6,424.6 C1756.3,427.6 1759.0,430.5 1761.7,433.4 C1764.3,436.3 1767.0,439.0 1769.7,441.8 C1772.4,444.5 1775.1,447.2 1777.8,449.8 C1780.5,452.5 1783.2,455.0 1785.9,457.6 C1788.6,460.1 1791.2,462.5 1793.9,464.9 C1796.6,467.3 1800.7,470.8 1802.0,472.0" stroke="#660000" stroke-width="4.5"/>
<path d="M761.0,589.0 C762.3,589.2 766.4,589.8 769.1,590.3 C771.8,590.7 774.4,591.2 777.1,591.8 C779.8,592.3 782.5,592.9 785.2,593.5 C787.9,594.1 790.6,594.7 793.3,595.4 C796.0,596.0 798.7,596.7 801.3,597.4 C804.0,598.2 806.7,598.9 809.4,599.7 C812.1,600.4 814.8,601.2 817.5,602.0 C820.2,602.8 822.9,603.6 825.6,604.5 C828.2,605.3 830.9,606.2 833.6,607.0 C836.3,607.9 839.0,608.8 841.7,609.7 C844.4,610.5 847.1,611.4 849.8,612.3 C852.5,613.2 855.1,614.1 857.8,615.0 C860.5,615.9 863.2,616.8 865.9,617.8 C868.6,618.7 871.3,619.6 874.0,620.5 C876.7,621.4 879.4,622.3 882.0,623.1 C884.7,624.0 887.4,624.9 890.1,625.8 C892.8,626.6 895.5,627.5 898.2,628.3 C900.9,629.2 903.6,630.0 906.3,630.8 C908.9,631.6 911.6,632.4 914.3,633.2 C917.0,634.0 919.7,634.7 922.4,635.4 C925.1,636.1 927.8,636.9 930.5,637.5 C933.2,638.2 935.8,638.8 938.5,639.4 C941.2,640.1 943.9,640.6 946.6,641.2 C949.3,641.7 952.0,642.2 954.7,642.7 C957.4,643.2 960.1,643.6 962.7,644.0 C965.4,644.4 968.1,644.8 970.8,645.0 C973.5,645.3 976.2,645.5 978.9,645.6 C981.6,645.6 984.3,645.6 987.0,645.3 C989.6,645.0 992.3,644.6 995.0,644.0 C997.7,643.4 1000.4,642.5 1003.1,641.5 C1005.8,640.4 1008.5,639.1 1011.2,637.7 C1013.9,636.2 1016.5,634.5 1019.2,632.7 C1021.9,630.8 1024.6,628.8 1027.3,626.6 C1030.0,624.3 1032.7,621.9 1035.4,619.3 C1038.1,616.7 1040.8,614.0 1043.4,611.0 C1046.1,608.1 1048.8,605.0 1051.5,601.7 C1054.2,598.4 1056.9,595.0 1059.6,591.4 C1062.3,587.7 1065.0,583.9 1067.7,579.9 C1070.3,575.8 1073.0,571.6 1075.7,567.1 C1078.4,562.6 1081.1,557.9 1083.8,553.0 C1086.5,548.0 1089.2,542.7 1091.9,537.4 C1094.6,532.0 1097.2,526.3 1099.9,520.6 C1102.6,514.9 1105.3,509.1 1108.0,503.2 C1110.7,497.4 1113.4,491.5 1116.1,485.6 C1118.8,479.8 1121.4,474.0 1124.1,468.3 C1126.8,462.6 1129.5,457.0 1132.2,451.6 C1134.9,446.1 1137.6,440.8 1140.3,435.7 C1143.0,430.7 1145.7,425.8 1148.3,421.2 C1151.0,416.6 1153.7,412.2 1156.4,408.2 C1159.1,404.1 1161.8,400.4 1164.5,397.0 C1167.2,393.7 1169.9,390.7 1172.6,388.0 C1175.2,385.3 1177.9,383.0 1180.6,381.0 C1183.3,379.1 1186.0,377.5 1188.7,376.2 C1191.4,374.9 1194.1,374.0 1196.8,373.4 C1199.5,372.8 1202.1,372.5 1204.8,372.6 C1207.5,372.7 1210.2,373.1 1212.9,373.9 C1215.6,374.6 1218.3,375.7 1221.0,377.2 C1223.7,378.7 1226.4,380.5 1229.0,382.7 C1231.7,384.9 1234.4,387.5 1237.1,390.5 C1239.8,393.4 1242.5,396.9 1245.2,400.5 C1247.9,404.2 1250.6,408.3 1253.3,412.6 C1255.9,416.9 1258.6,421.5 1261.3,426.2 C1264.0,430.9 1266.7,435.9 1269.4,441.0 C1272.1,446.0 1274.8,451.3 1277.5,456.6 C1280.2,461.8 1282.8,467.2 1285.5,472.6 C1288.2,478.0 1290.9,483.4 1293.6,488.7 C1296.3,494.1 1299.0,499.4 1301.7,504.6 C1304.4,509.8 1307.1,515.0 1309.7,519.9 C1312.4,524.9 1315.1,529.7 1317.8,534.4 C1320.5,539.1 1323.2,543.6 1325.9,548.0 C1328.6,552.4 1331.3,556.6 1334.0,560.7 C1336.6,564.8 1339.3,568.8 1342.0,572.7 C1344.7,576.5 1347.4,580.2 1350.1,583.8 C1352.8,587.4 1355.5,590.9 1358.2,594.3 C1360.9,597.7 1363.5,600.9 1366.2,604.1 C1368.9,607.2 1371.6,610.2 1374.3,613.2 C1377.0,616.1 1379.7,618.9 1382.4,621.7 C1385.1,624.4 1387.8,627.0 1390.4,629.6 C1393.1,632.2 1395.8,634.6 1398.5,637.0 C1401.2,639.4 1403.9,641.6 1406.6,643.9 C1409.3,646.1 1412.0,648.2 1414.7,650.3 C1417.3,652.3 1420.0,654.3 1422.7,656.2 C1425.4,658.2 1428.1,660.0 1430.8,661.8 C1433.5,663.6 1436.2,665.4 1438.9,667.0 C1441.6,668.7 1444.2,670.4 1446.9,672.0 C1449.6,673.5 1452.3,675.1 1455.0,676.6 C1457.7,678.0 1460.4,679.5 1463.1,680.9 C1465.8,682.3 1468.4,683.6 1471.1,685.0 C1473.8,686.3 1476.5,687.5 1479.2,688.8 C1481.9,690.0 1484.6,691.2 1487.3,692.3 C1490.0,693.5 1492.7,694.6 1495.3,695.7 C1498.0,696.7 1500.7,697.8 1503.4,698.8 C1506.1,699.8 1508.8,700.7 1511.5,701.7 C1514.2,702.6 1516.9,703.5 1519.6,704.4 C1522.2,705.3 1524.9,706.1 1527.6,706.9 C1530.3,707.7 1533.0,708.5 1535.7,709.2 C1538.4,710.0 1541.1,710.7 1543.8,711.4 C1546.5,712.1 1549.1,712.8 1551.8,713.4 C1554.5,714.1 1557.2,714.7 1559.9,715.3 C1562.6,715.9 1565.3,716.5 1568.0,717.0 C1570.7,717.6 1573.4,718.1 1576.0,718.7 C1578.7,719.2 1581.4,719.7 1584.1,720.2 C1586.8,720.6 1589.5,721.1 1592.2,721.6 C1594.9,722.0 1597.6,722.5 1600.3,722.9 C1602.9,723.3 1605.6,723.7 1608.3,724.1 C1611.0,724.5 1613.7,724.9 1616.4,725.3 C1619.1,725.7 1621.8,726.1 1624.5,726.4 C1627.2,726.8 1629.8,727.2 1632.5,727.5 C1635.2,727.9 1637.9,728.2 1640.6,728.6 C1643.3,728.9 1646.0,729.3 1648.7,729.6 C1651.4,729.9 1654.1,730.3 1656.7,730.6 C1659.4,730.9 1662.1,731.2 1664.8,731.6 C1667.5,731.9 1670.2,732.2 1672.9,732.5 C1675.6,732.8 1678.3,733.1 1681.0,733.4 C1683.6,733.7 1686.3,734.0 1689.0,734.3 C1691.7,734.5 1694.4,734.8 1697.1,735.1 C1699.8,735.4 1702.5,735.6 1705.2,735.9 C1707.9,736.2 1710.5,736.4 1713.2,736.7 C1715.9,736.9 1718.6,737.1 1721.3,737.4 C1724.0,737.6 1726.7,737.8 1729.4,738.1 C1732.1,738.3 1734.8,738.5 1737.4,738.7 C1740.1,738.9 1742.8,739.1 1745.5,739.3 C1748.2,739.5 1750.9,739.7 1753.6,739.9 C1756.3,740.1 1759.0,740.2 1761.7,740.4 C1764.3,740.6 1767.0,740.7 1769.7,740.9 C1772.4,741.0 1775.1,741.2 1777.8,741.3 C1780.5,741.4 1783.2,741.5 1785.9,741.7 C1788.6,741.8 1791.2,741.9 1793.9,742.0 C1796.6,742.1 1800.7,742.2 1802.0,742.3" stroke="#c80000" stroke-width="4.5"/>
<path d="M761.0,589.8 C762.3,590.1 766.4,591.1 769.1,591.8 C771.8,592.5 774.4,593.2 777.1,593.9 C779.8,594.6 782.5,595.3 785.2,596.0 C787.9,596.7 790.6,597.4 793.3,598.1 C796.0,598.8 798.7,599.5 801.3,600.2 C804.0,600.9 806.7,601.7 809.4,602.4 C812.1,603.1 814.8,603.8 817.5,604.6 C820.2,605.3 822.9,606.0 825.6,606.8 C828.2,607.5 830.9,608.2 833.6,609.0 C836.3,609.7 839.0,610.4 841.7,611.1 C844.4,611.9 847.1,612.6 849.8,613.3 C852.5,614.0 855.1,614.8 857.8,615.5 C860.5,616.2 863.2,616.9 865.9,617.6 C868.6,618.3 871.3,619.0 874.0,619.7 C876.7,620.4 879.4,621.1 882.0,621.8 C884.7,622.5 887.4,623.1 890.1,623.8 C892.8,624.5 895.5,625.1 898.2,625.8 C900.9,626.4 903.6,627.1 906.3,627.7 C908.9,628.3 911.6,628.9 914.3,629.6 C917.0,630.2 919.7,630.8 922.4,631.4 C925.1,631.9 927.8,632.5 930.5,633.1 C933.2,633.6 935.8,634.2 938.5,634.7 C941.2,635.3 943.9,635.8 946.6,636.3 C949.3,636.8 952.0,637.3 954.7,637.6 C957.4,638.0 960.1,638.4 962.7,638.6 C965.4,638.8 968.1,638.9 970.8,638.8 C973.5,638.7 976.2,638.6 978.9,638.1 C981.6,637.7 984.3,637.1 987.0,636.2 C989.6,635.4 992.3,634.3 995.0,633.1 C997.7,631.8 1000.4,630.4 1003.1,628.7 C1005.8,627.1 1008.5,625.2 1011.2,623.2 C1013.9,621.2 1016.5,619.0 1019.2,616.7 C1021.9,614.3 1024.6,611.8 1027.3,609.1 C1030.0,606.4 1032.7,603.6 1035.4,600.6 C1038.1,597.6 1040.8,594.4 1043.4,591.2 C1046.1,587.9 1048.8,584.4 1051.5,580.9 C1054.2,577.3 1056.9,573.6 1059.6,569.8 C1062.3,566.0 1065.0,562.1 1067.7,558.0 C1070.3,554.0 1073.0,549.8 1075.7,545.5 C1078.4,541.3 1081.1,536.9 1083.8,532.4 C1086.5,527.9 1089.2,523.3 1091.9,518.7 C1094.6,514.1 1097.2,509.4 1099.9,504.8 C1102.6,500.1 1105.3,495.4 1108.0,490.9 C1110.7,486.4 1113.4,481.9 1116.1,477.6 C1118.8,473.3 1121.4,469.0 1124.1,465.1 C1126.8,461.2 1129.5,457.4 1132.2,454.0 C1134.9,450.6 1137.6,447.5 1140.3,444.7 C1143.0,441.8 1145.7,439.3 1148.3,437.1 C1151.0,434.9 1153.7,433.0 1156.4,431.4 C1159.1,429.8 1161.8,428.5 1164.5,427.6 C1167.2,426.7 1169.9,426.0 1172.6,425.8 C1175.2,425.5 1177.9,425.6 1180.6,426.0 C1183.3,426.4 1186.0,427.2 1188.7,428.3 C1191.4,429.5 1194.1,431.0 1196.8,432.8 C1199.5,434.7 1202.1,436.9 1204.8,439.4 C1207.5,441.9 1210.2,444.7 1212.9,447.8 C1215.6,450.9 1218.3,454.3 1221.0,457.9 C1223.7,461.5 1226.4,465.4 1229.0,469.4 C1231.7,473.4 1234.4,477.7 1237.1,482.1 C1239.8,486.5 1242.5,491.0 1245.2,495.7 C1247.9,500.3 1250.6,505.1 1253.3,510.0 C1255.9,514.8 1258.6,519.8 1261.3,524.7 C1264.0,529.7 1266.7,534.7 1269.4,539.7 C1272.1,544.7 1274.8,549.7 1277.5,554.7 C1280.2,559.6 1282.8,564.6 1285.5,569.4 C1288.2,574.2 1290.9,579.0 1293.6,583.7 C1296.3,588.3 1299.0,592.8 1301.7,597.2 C1304.4,601.6 1307.1,605.9 1309.7,610.0 C1312.4,614.1 1315.1,618.1 1317.8,622.0 C1320.5,625.8 1323.2,629.5 1325.9,633.1 C1328.6,636.7 1331.3,640.1 1334.0,643.3 C1336.6,646.5 1339.3,649.6 1342.0,652.5 C1344.7,655.5 1347.4,658.2 1350.1,660.8 C1352.8,663.4 1355.5,665.8 1358.2,668.1 C1360.9,670.4 1363.5,672.6 1366.2,674.6 C1368.9,676.7 1371.6,678.6 1374.3,680.4 C1377.0,682.2 1379.7,683.9 1382.4,685.5 C1385.1,687.1 1387.8,688.7 1390.4,690.1 C1393.1,691.6 1395.8,692.9 1398.5,694.2 C1401.2,695.6 1403.9,696.8 1406.6,698.0 C1409.3,699.2 1412.0,700.4 1414.7,701.6 C1417.3,702.7 1420.0,703.8 1422.7,704.9 C1425.4,706.0 1428.1,707.0 1430.8,708.0 C1433.5,709.0 1436.2,710.0 1438.9,711.0 C1441.6,712.0 1444.2,712.9 1446.9,713.8 C1449.6,714.7 1452.3,715.6 1455.0,716.4 C1457.7,717.3 1460.4,718.1 1463.1,718.9 C1465.8,719.7 1468.4,720.4 1471.1,721.2 C1473.8,721.9 1476.5,722.6 1479.2,723.3 C1481.9,724.0 1484.6,724.7 1487.3,725.4 C1490.0,726.0 1492.7,726.6 1495.3,727.2 C1498.0,727.8 1500.7,728.4 1503.4,728.9 C1506.1,729.5 1508.8,730.0 1511.5,730.5 C1514.2,731.1 1516.9,731.5 1519.6,732.0 C1522.2,732.5 1524.9,732.9 1527.6,733.4 C1530.3,733.8 1533.0,734.2 1535.7,734.6 C1538.4,735.0 1541.1,735.4 1543.8,735.7 C1546.5,736.1 1549.1,736.4 1551.8,736.7 C1554.5,737.1 1557.2,737.4 1559.9,737.7 C1562.6,738.0 1565.3,738.2 1568.0,738.5 C1570.7,738.8 1573.4,739.0 1576.0,739.2 C1578.7,739.5 1581.4,739.7 1584.1,739.9 C1586.8,740.1 1589.5,740.3 1592.2,740.5 C1594.9,740.6 1597.6,740.8 1600.3,741.0 C1602.9,741.1 1605.6,741.3 1608.3,741.4 C1611.0,741.5 1613.7,741.6 1616.4,741.8 C1619.1,741.9 1621.8,742.0 1624.5,742.1 C1627.2,742.2 1629.8,742.2 1632.5,742.3 C1635.2,742.4 1637.9,742.5 1640.6,742.5 C1643.3,742.6 1646.0,742.7 1648.7,742.7 C1651.4,742.8 1654.1,742.8 1656.7,742.8 C1659.4,742.9 1662.1,742.9 1664.8,742.9 C1667.5,743.0 1670.2,743.0 1672.9,743.0 C1675.6,743.0 1678.3,743.0 1681.0,743.1 C1683.6,743.1 1686.3,743.1 1689.0,743.1 C1691.7,743.1 1694.4,743.1 1697.1,743.1 C1699.8,743.1 1702.5,743.1 1705.2,743.1 C1707.9,743.1 1710.5,743.2 1713.2,743.2 C1715.9,743.2 1718.6,743.2 1721.3,743.2 C1724.0,743.2 1726.7,743.2 1729.4,743.2 C1732.1,743.2 1734.8,743.2 1737.4,743.3 C1740.1,743.3 1742.8,743.3 1745.5,743.3 C1748.2,743.4 1750.9,743.4 1753.6,743.4 C1756.3,743.5 1759.0,743.5 1761.7,743.6 C1764.3,743.6 1767.0,743.7 1769.7,743.7 C1772.4,743.8 1775.1,743.8 1777.8,743.9 C1780.5,744.0 1783.2,744.1 1785.9,744.2 C1788.6,744.3 1791.2,744.4 1793.9,744.5 C1796.6,744.6 1800.7,744.8 1802.0,744.8" stroke="#ff0000" stroke-width="4.5"/>
</g>
<line x1="1730.5" y1="137" x2="1730.5" y2="720" stroke="#000" stroke-width="3.2" stroke-dasharray="10,5.3"/>
<line x1="1165" y1="447" x2="1165" y2="758" stroke="#ff0000" stroke-width="3.2" stroke-dasharray="10,5.3"/>
<defs><linearGradient id="arrG" x1="0" y1="0" x2="1" y2="0"><stop offset="0" stop-color="#a80000"/><stop offset="0.45" stop-color="#4a0000"/><stop offset="0.72" stop-color="#000"/><stop offset="0.78" stop-color="#000"/><stop offset="1" stop-color="#000" stop-opacity="0"/></linearGradient></defs>
<path d="M1311,407.5 L1330,388.8 L1330,398 L1637,398 L1637,417.5 L1330,417.5 L1330,426.5 Z" fill="url(#arrG)"/>
<rect x="761.0" y="45.0" width="1044.0" height="756.0" fill="none" stroke="#000" stroke-width="4"/>
<path d="M1802,472.5 L1804.3,470 L1804.6,366" fill="none" stroke="#5c0000" stroke-width="3" stroke-linejoin="round"/>
<path d="M1802,742.4 L1804.2,742 L1804.6,699" fill="none" stroke="#c00000" stroke-width="3" stroke-linejoin="round"/>
<path d="M1802,744.2 L1804.2,744 L1804.6,699" fill="none" stroke="#ff0000" stroke-width="3" stroke-linejoin="round"/>
<line x1="1022.0" y1="801" x2="1022.0" y2="787" stroke="#000" stroke-width="4"/>
<line x1="1283.0" y1="801" x2="1283.0" y2="787" stroke="#000" stroke-width="4"/>
<line x1="1548.0" y1="801" x2="1548.0" y2="787" stroke="#000" stroke-width="4"/>
<line x1="892.0" y1="801" x2="892.0" y2="796" stroke="#000" stroke-width="4"/>
<line x1="1153.0" y1="801" x2="1153.0" y2="796" stroke="#000" stroke-width="4"/>
<line x1="1414.0" y1="801" x2="1414.0" y2="796" stroke="#000" stroke-width="4"/>
<line x1="1678.0" y1="801" x2="1678.0" y2="796" stroke="#000" stroke-width="4"/>
<line x1="761" y1="153.9" x2="772" y2="153.9" stroke="#000" stroke-width="4"/>
<line x1="761" y1="368.7" x2="772" y2="368.7" stroke="#000" stroke-width="4"/>
<line x1="761" y1="583.5" x2="772" y2="583.5" stroke="#000" stroke-width="4"/>
<line x1="761" y1="261.3" x2="766" y2="261.3" stroke="#000" stroke-width="4"/>
<line x1="761" y1="476.1" x2="766" y2="476.1" stroke="#000" stroke-width="4"/>
<line x1="761" y1="690.9" x2="766" y2="690.9" stroke="#000" stroke-width="4"/>
<text x="743.5" y="162.2" font-family='"Liberation Sans", Arial, sans-serif' font-size="38.50" text-anchor="end" fill="#000">0.20</text>
<text x="743.5" y="381.0" font-family='"Liberation Sans", Arial, sans-serif' font-size="38.50" text-anchor="end" fill="#000">0.15</text>
<text x="743.5" y="595.9" font-family='"Liberation Sans", Arial, sans-serif' font-size="38.50" text-anchor="end" fill="#000">0.10</text>
<text x="743.5" y="811.8" font-family='"Liberation Sans", Arial, sans-serif' font-size="38.50" text-anchor="end" fill="#000">0.05</text>
<text x="757.8" y="846.8" font-family='"Liberation Sans", Arial, sans-serif' font-size="38.50" text-anchor="middle" fill="#000">400</text>
<text x="1020.7" y="846.8" font-family='"Liberation Sans", Arial, sans-serif' font-size="38.50" text-anchor="middle" fill="#000">500</text>
<text x="1282.4" y="846.8" font-family='"Liberation Sans", Arial, sans-serif' font-size="38.50" text-anchor="middle" fill="#000">600</text>
<text x="1543.8" y="846.8" font-family='"Liberation Sans", Arial, sans-serif' font-size="38.50" text-anchor="middle" fill="#000">700</text>
<text x="1279.2" y="918.0" font-family='"Liberation Sans", Arial, sans-serif' font-size="46.20" text-anchor="middle" fill="#000">Wavelength (nm)</text>
<g transform="translate(621.5,0) rotate(-90)" font-family='"Liberation Sans", Arial, sans-serif' font-size="54" fill="#000"><text x="-680.3" y="0" textLength="304.5" lengthAdjust="spacingAndGlyphs">Absorbance</text><text x="-373" y="0" textLength="120" lengthAdjust="spacingAndGlyphs">(a.u.)</text></g>
<line x1="809" y1="94" x2="872" y2="94" stroke="#000" stroke-width="4" stroke-dasharray="14,10.5"/>
<text x="894.5" y="103.0" font-family='"Liberation Sans", Arial, sans-serif' font-size="33.50" text-anchor="start" fill="#000" textLength="191.0" lengthAdjust="spacingAndGlyphs">As deposited</text>
<line x1="809.5" y1="136.1" x2="886" y2="136.1" stroke="#660000" stroke-width="3.8"/>
<text x="895.5" y="143.5" font-family='"Liberation Sans", Arial, sans-serif' font-size="33.50" text-anchor="start" fill="#000" textLength="219.0" lengthAdjust="spacingAndGlyphs">T.T. 200°C -1h</text>
<line x1="809.5" y1="175.6" x2="886" y2="175.6" stroke="#c80000" stroke-width="3.8"/>
<text x="895.5" y="186.2" font-family='"Liberation Sans", Arial, sans-serif' font-size="33.50" text-anchor="start" fill="#000" textLength="219.0" lengthAdjust="spacingAndGlyphs">T.T. 400°C -1h</text>
<line x1="809.5" y1="216.8" x2="886" y2="216.8" stroke="#ff0000" stroke-width="3.8"/>
<text x="895.5" y="227.5" font-family='"Liberation Sans", Arial, sans-serif' font-size="33.50" text-anchor="start" fill="#000" textLength="219.0" lengthAdjust="spacingAndGlyphs">T.T. 500°C -1h</text>
<text x="1001.5" y="729.8" font-family='"Liberation Sans", Arial, sans-serif' font-size="45.30" text-anchor="start" fill="#ff0000" textLength="154.5" lengthAdjust="spacingAndGlyphs">575 nm</text>
<text x="1559.0" y="679.3" font-family='"Liberation Sans", Arial, sans-serif' font-size="45.30" text-anchor="start" fill="#000" textLength="156.0" lengthAdjust="spacingAndGlyphs">860 nm</text>
<text x="800.3" y="742.3" font-family='"Liberation Sans", Arial, sans-serif' font-size="58.00" text-anchor="start" fill="#000" textLength="71.0" lengthAdjust="spacingAndGlyphs">(e)</text>
</g>
<g id="chart-f">
<rect x="770.0" y="967.0" width="1040.0" height="760.0" fill="none" stroke="#000" stroke-width="4"/>
<line x1="770" y1="1012.7" x2="785" y2="1012.7" stroke="#000" stroke-width="4"/>
<text x="749.5" y="1025.1" font-family='"Liberation Sans", Arial, sans-serif' font-size="40.00" text-anchor="end" fill="#000">860</text>
<line x1="770" y1="1107.7" x2="785" y2="1107.7" stroke="#000" stroke-width="4"/>
<text x="749.5" y="1119.6" font-family='"Liberation Sans", Arial, sans-serif' font-size="40.00" text-anchor="end" fill="#000">817</text>
<line x1="770" y1="1202.8" x2="785" y2="1202.8" stroke="#000" stroke-width="4"/>
<text x="749.5" y="1215.1" font-family='"Liberation Sans", Arial, sans-serif' font-size="40.00" text-anchor="end" fill="#000">774</text>
<line x1="770" y1="1297.8" x2="785" y2="1297.8" stroke="#000" stroke-width="4"/>
<text x="749.5" y="1310.1" font-family='"Liberation Sans", Arial, sans-serif' font-size="40.00" text-anchor="end" fill="#000">731</text>
<line x1="770" y1="1393.0" x2="785" y2="1393.0" stroke="#000" stroke-width="4"/>
<text x="749.5" y="1404.4" font-family='"Liberation Sans", Arial, sans-serif' font-size="40.00" text-anchor="end" fill="#000">688</text>
<line x1="770" y1="1490.4" x2="785" y2="1490.4" stroke="#000" stroke-width="4"/>
<text x="749.5" y="1500.6" font-family='"Liberation Sans", Arial, sans-serif' font-size="40.00" text-anchor="end" fill="#000">645</text>
<line x1="770" y1="1586.4" x2="785" y2="1586.4" stroke="#000" stroke-width="4"/>
<text x="749.5" y="1595.7" font-family='"Liberation Sans", Arial, sans-serif' font-size="40.00" text-anchor="end" fill="#000">602</text>
<line x1="770" y1="1680.9" x2="785" y2="1680.9" stroke="#000" stroke-width="4"/>
<text x="749.5" y="1692.4" font-family='"Liberation Sans", Arial, sans-serif' font-size="40.00" text-anchor="end" fill="#000">559</text>
<line x1="770" y1="1061.8" x2="778" y2="1061.8" stroke="#000" stroke-width="4"/>
<line x1="770" y1="1157.0" x2="778" y2="1157.0" stroke="#000" stroke-width="4"/>
<line x1="770" y1="1251.7" x2="778" y2="1251.7" stroke="#000" stroke-width="4"/>
<line x1="770" y1="1346.7" x2="778" y2="1346.7" stroke="#000" stroke-width="4"/>
<line x1="770" y1="1441.9" x2="778" y2="1441.9" stroke="#000" stroke-width="4"/>
<line x1="770" y1="1536.9" x2="778" y2="1536.9" stroke="#000" stroke-width="4"/>
<line x1="770" y1="1631.8" x2="778" y2="1631.8" stroke="#000" stroke-width="4"/>
<rect x="857.1" y="1011.0" width="122.0" height="718.0" fill="#d3d3d3"/>
<path d="M859.1,1729 L859.1,1013.0 L977.1,1013.0 L977.1,1729" fill="none" stroke="#000" stroke-width="4"/>
<text x="918.3" y="1774.3" font-family='"Liberation Sans", Arial, sans-serif' font-size="40.20" text-anchor="middle" fill="#000">As Dep</text>
<rect x="1005.8" y="1384.3" width="122.0" height="344.7" fill="#d3d3d3"/>
<path d="M1007.8,1729 L1007.8,1386.3 L1125.8,1386.3 L1125.8,1729" fill="none" stroke="#000" stroke-width="4"/>
<text x="1064.8" y="1774.3" font-family='"Liberation Sans", Arial, sans-serif' font-size="40.20" text-anchor="middle" fill="#000">200°C</text>
<rect x="1154.5" y="1564.3" width="122.0" height="164.7" fill="#d3d3d3"/>
<path d="M1156.5,1729 L1156.5,1566.3 L1274.5,1566.3 L1274.5,1729" fill="none" stroke="#000" stroke-width="4"/>
<text x="1213.5" y="1774.3" font-family='"Liberation Sans", Arial, sans-serif' font-size="40.20" text-anchor="middle" fill="#000">250°C</text>
<rect x="1303.2" y="1623.3" width="122.0" height="105.7" fill="#d3d3d3"/>
<path d="M1305.2,1729 L1305.2,1625.3 L1423.2,1625.3 L1423.2,1729" fill="none" stroke="#000" stroke-width="4"/>
<text x="1361.6" y="1774.3" font-family='"Liberation Sans", Arial, sans-serif' font-size="40.20" text-anchor="middle" fill="#000">300°C</text>
<rect x="1451.9" y="1656.5" width="122.0" height="72.5" fill="#d3d3d3"/>
<path d="M1453.9,1729 L1453.9,1658.5 L1571.9,1658.5 L1571.9,1729" fill="none" stroke="#000" stroke-width="4"/>
<text x="1509.6" y="1774.3" font-family='"Liberation Sans", Arial, sans-serif' font-size="40.20" text-anchor="middle" fill="#000">400°C</text>
<rect x="1600.6" y="1676.4" width="122.0" height="52.6" fill="#d3d3d3"/>
<path d="M1602.6,1729 L1602.6,1678.4 L1720.6,1678.4 L1720.6,1729" fill="none" stroke="#000" stroke-width="4"/>
<text x="1657.0" y="1774.3" font-family='"Liberation Sans", Arial, sans-serif' font-size="40.20" text-anchor="middle" fill="#000">500°C</text>
<line x1="845.7" y1="1727" x2="845.7" y2="1721.5" stroke="#000" stroke-width="3"/>
<line x1="994.3" y1="1727" x2="994.3" y2="1721.5" stroke="#000" stroke-width="3"/>
<line x1="1143.0" y1="1727" x2="1143.0" y2="1721.5" stroke="#000" stroke-width="3"/>
<line x1="1290.6" y1="1727" x2="1290.6" y2="1721.5" stroke="#000" stroke-width="3"/>
<line x1="1439.7" y1="1727" x2="1439.7" y2="1721.5" stroke="#000" stroke-width="3"/>
<line x1="1588.7" y1="1727" x2="1588.7" y2="1721.5" stroke="#000" stroke-width="3"/>
<line x1="1733.5" y1="1727" x2="1733.5" y2="1721.5" stroke="#000" stroke-width="3"/>
<text x="1289.0" y="1849.6" font-family='"Liberation Sans", Arial, sans-serif' font-size="48.80" text-anchor="middle" fill="#000">Thermal Treatment</text>
<text transform="translate(633,1377) rotate(-90)" font-family='"Liberation Sans", Arial, sans-serif' font-size="47.4" text-anchor="middle">Wavelength (nm)</text>
<text x="1724.6" y="1592.0" font-family='"Liberation Sans", Arial, sans-serif' font-size="58.50" text-anchor="start" fill="#000" textLength="61.0" lengthAdjust="spacingAndGlyphs">(f)</text>
</g>
</svg></body></html>
